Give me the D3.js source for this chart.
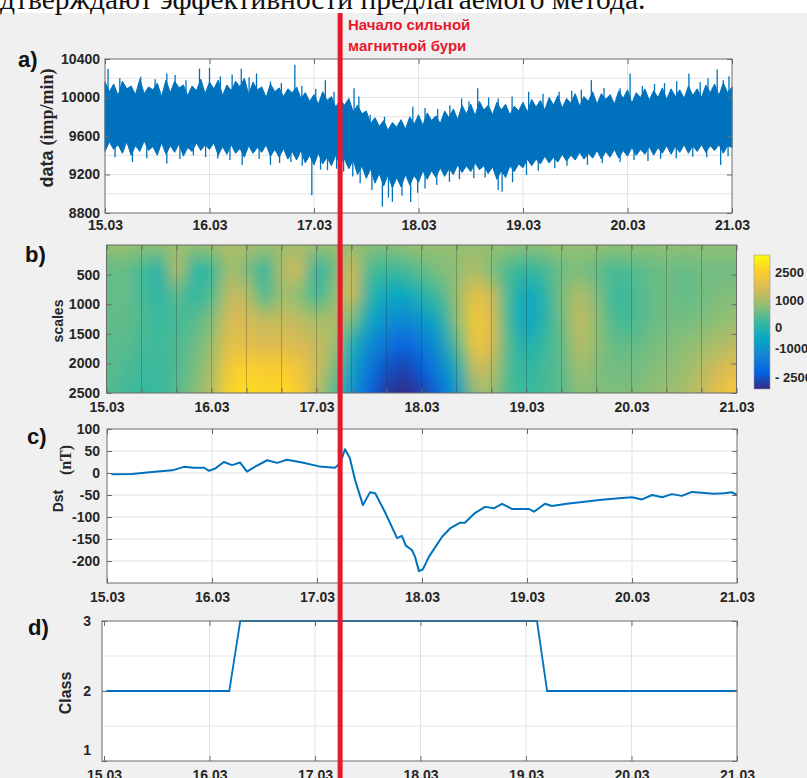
<!DOCTYPE html>
<html>
<head>
<meta charset="utf-8">
<script src="https://cdn.jsdelivr.net/npm/d3@7"></script>
<style>
  html, body { margin: 0; padding: 0; background: #fff; }
  svg { display: block; font-family: "Liberation Sans", Arial, sans-serif; }
</style>
</head>
<body>
<svg id="fig" width="807" height="778"></svg>
<script>
// ---- data ----
const dayLabels = ["15.03", "16.03", "17.03", "18.03", "19.03", "20.03", "21.03"];
const stormHour = 54; // 17.03 06:00

// a) count rate, local upper / lower extremes every hour (imp/min)
const rateHi = [10160, 10060, 10140, 10020, 10170, 10090, 10120, 10030, 10190, 10040,
  10110, 10080, 10150, 10010, 10180, 10050, 10170, 10100, 10130, 10020,
  10120, 10070, 10190, 10040, 10160, 10090, 10180, 10020, 10130, 10070,
  10170, 10110, 10200, 10030, 10160, 10080, 10110, 10000, 10140, 10060,
  10100, 10010, 10090, 10050, 10110, 9990, 10050, 9960, 10030, 9930,
  10060, 9970, 10010, 9900, 9980, 9920, 9990, 9850, 9920, 9830,
  9860, 9730, 9790, 9700, 9760, 9660, 9740, 9690, 9770, 9670,
  9800, 9720, 9820, 9710, 9840, 9760, 9810, 9730, 9860, 9790,
  9880, 9770, 9920, 9830, 9930, 9810, 9960, 9870, 9920, 9820,
  9950, 9870, 9930, 9820, 9910, 9860, 9950, 9850, 9980, 9900,
  9970, 9870, 10000, 9920, 10020, 9890, 9990, 9940, 10040, 9910,
  10010, 9960, 10060, 9930, 10040, 9980, 10030, 9930, 10070, 9990,
  10080, 9940, 10050, 10000, 10090, 9970, 10070, 10000, 10100, 9980,
  10090, 10010, 10080, 9990, 10120, 10020, 10090, 10000, 10130, 10050,
  10140, 10020, 10150, 10050, 10110];
const rateLo = [9440, 9540, 9460, 9510, 9420, 9540, 9400, 9500, 9440, 9550,
  9450, 9490, 9400, 9530, 9410, 9500, 9430, 9520, 9390, 9480,
  9440, 9530, 9450, 9510, 9460, 9530, 9400, 9490, 9410, 9510,
  9420, 9470, 9380, 9500, 9420, 9480, 9430, 9510, 9390, 9460,
  9380, 9470, 9360, 9440, 9350, 9450, 9320, 9400, 9300, 9420,
  9310, 9380, 9290, 9400, 9310, 9360, 9260, 9350, 9200, 9290,
  9160, 9260, 9110, 9210, 9080, 9200, 9060, 9170, 9070, 9200,
  9090, 9190, 9120, 9240, 9150, 9240, 9170, 9270, 9180, 9260,
  9200, 9300, 9220, 9290, 9230, 9320, 9250, 9290, 9210, 9280,
  9150, 9240, 9170, 9290, 9230, 9310, 9270, 9360, 9290, 9360,
  9310, 9390, 9320, 9380, 9330, 9410, 9340, 9400, 9350, 9430,
  9360, 9420, 9370, 9450, 9360, 9440, 9380, 9460, 9370, 9450,
  9390, 9480, 9400, 9460, 9410, 9490, 9400, 9480, 9420, 9500,
  9410, 9490, 9430, 9510, 9420, 9500, 9440, 9510, 9430, 9500,
  9450, 9510, 9420, 9500, 9480];
// single spikes [hour, value]
const spikesUp = [[0.7, 10300], [3.4, 10200], [8.2, 10215], [11.5, 10190], [14.2, 10250],
  [16.1, 10235], [18.6, 10180], [21.7, 10300], [24, 10305], [26.5, 10220],
  [29.2, 10240], [31.3, 10300], [33.1, 10210], [34.8, 10250], [38, 10165],
  [40.5, 10150], [43.6, 10340], [45.2, 10120], [48.4, 10090], [50.6, 10180],
  [52.6, 10060], [57.2, 10095], [58.3, 10010], [60.9, 9820], [64.2, 9800],
  [67.4, 9730], [70.7, 9905], [73.5, 9890], [76.4, 9880], [79.2, 9920],
  [81.9, 9990], [83.6, 9960], [85.6, 10095], [88.1, 10000], [90.3, 9990],
  [93.5, 10010], [97.3, 10060], [100.6, 10040], [104.3, 10060], [107.2, 10070],
  [109.4, 10080], [111.7, 10180], [114.6, 10100], [118.3, 10095], [120.6, 10250],
  [123.4, 10120], [126.2, 10140], [128.5, 10150], [131.3, 10170], [134.1, 10250],
  [136.7, 10160], [138.5, 10200], [140.6, 10290], [142, 10180], [143.3, 10220]];
const spikesDown = [[2.3, 9380], [6.3, 9330], [9.6, 9370], [14.2, 9315], [17.2, 9360],
  [20.3, 9400], [23.1, 9380], [25.9, 9365], [28.7, 9350], [31.5, 9300],
  [35.4, 9360], [38, 9300], [40.1, 9320], [42.7, 9330], [45.3, 9290],
  [47.5, 8985], [49.5, 9250], [51.1, 9245], [53.2, 9260], [54.8, 9230],
  [56.9, 9180], [58.6, 9110], [61.3, 9040], [63.7, 8865], [65.1, 8960],
  [66, 8915], [68.2, 8980], [70.2, 8915], [71.8, 9010], [73.5, 9055],
  [76.2, 9090], [79.1, 9125], [81.4, 9150], [84.7, 9160], [87.3, 9170],
  [90.3, 9040], [91.2, 9020], [93.6, 9120], [96.8, 9195], [99.5, 9240],
  [103.3, 9265], [106.1, 9290], [110.8, 9300], [114.2, 9320], [118.3, 9330],
  [121.5, 9350], [124.7, 9340], [127.6, 9365], [131.2, 9370], [135, 9385],
  [138.2, 9380], [141.4, 9300], [143.1, 9390]];

// b) wavelet coefficients: columns every 4 h, rows at these scales
const heatScales = [0, 417, 833, 1250, 1667, 2083, 2500];
const heatValues = [
  [850, 500, 500, 500, 450, 450, 400],
  [850, 550, 550, 500, 450, 350, 300],
  [800, 300, 300, 350, 300, 250, 200],
  [750, 0, 50, 200, 250, 200, 200],
  [950, 1300, 500, 300, 350, 350, 400],
  [800, 50, 100, 400, 550, 650, 750],
  [900, 200, 400, 700, 900, 1100, 1200],
  [1100, 1100, 1400, 1700, 2000, 2400, 2700],
  [1000, 700, 1300, 1600, 1900, 2600, 2900],
  [900, 100, 300, 1300, 1700, 2400, 2700],
  [950, 1200, 1000, 1400, 1800, 2500, 2800],
  [1000, 1500, 800, 1300, 1700, 2200, 2500],
  [850, 0, 200, 1000, 1400, 1500, 1300],
  [850, 600, 800, 1100, 1000, 700, 400],
  [900, 1700, 1700, 700, -200, -700, -1000],
  [750, 300, 0, -500, -1200, -1700, -2200],
  [700, 200, -400, -1000, -1800, -2500, -2900],
  [800, 300, -500, -1300, -2200, -2800, -3200],
  [900, 500, 0, -900, -1700, -2300, -2800],
  [850, 700, 300, -300, -900, -1500, -2000],
  [850, 800, 900, 800, 400, -300, -800],
  [850, 1200, 2000, 2400, 2300, 1500, 900],
  [850, 700, 1500, 1800, 1700, 1300, 900],
  [800, 300, 200, 200, 300, 300, 300],
  [750, 100, -500, -600, -200, 100, 200],
  [800, 300, 0, 0, 200, 300, 300],
  [850, 600, 700, 600, 500, 450, 450],
  [850, 700, 1200, 1400, 1300, 1000, 800],
  [850, 500, 700, 800, 800, 700, 700],
  [800, 300, 200, 300, 500, 600, 700],
  [800, 400, 300, 300, 500, 600, 700],
  [800, 500, 500, 500, 600, 700, 800],
  [800, 600, 600, 600, 700, 800, 900],
  [800, 500, 500, 600, 800, 900, 1000],
  [800, 600, 600, 700, 900, 1200, 1400],
  [800, 600, 700, 800, 1100, 1600, 2000],
  [800, 600, 700, 900, 1300, 1900, 2400]
];
const cbTicks = [-2500, -1000, 0, 1000, 2500];
const cbFrac = [0.09, 0.30, 0.46, 0.66, 0.87]; // where the ticks sit on the colour bar
const parula = ["#352a87", "#0363e1", "#1485d4", "#06a7c6", "#38b99e",
  "#92bf73", "#d9ba56", "#fcce2e", "#f9fb0e"];

// c) Dst index
const dstHours = [1, 5.7, 10.3, 14.9, 17.6, 19.9, 22.2, 23.3, 24.7, 26.7, 28.6, 30.4, 32, 34.3,
  36.6, 38.9, 41.1, 43.4, 44.6, 48.5, 52.1, 53.3, 54.4, 55.5, 56.7, 58.5, 60.1, 61.3,
  63.5, 66.3, 67.4, 68.3, 69.7, 70.4, 71.3, 72.2, 73.6, 76.6, 78.4, 80.7, 81.8, 84.1,
  86.4, 88.5, 90.3, 92.6, 96.5, 97.6, 100.1, 101.7, 105.1, 108.6, 113.1, 117.7, 120,
  122.3, 124.6, 126.9, 129.1, 131.4, 133.7, 136, 138.7, 141, 142.9, 144];
const dstValues = [-3, -2, 2, 6, 14, 12, 12, 5, 10, 25, 18, 24, 3, 17,
  29, 23, 30, 26, 24, 15, 12, 22, 54, 34, -16, -73, -44, -46,
  -88, -148, -143, -165, -175, -190, -223, -219, -190, -145, -126, -113, -113, -91,
  -77, -80, -70, -82, -82, -88, -70, -75, -70, -66, -61, -57, -55,
  -60, -50, -55, -48, -52, -43, -45, -47, -46, -44, -50];

// d) storm class
const classHours = [0.5, 28.5, 31, 98.5, 100.8, 144];
const classValues = [2, 2, 3, 3, 2, 2];

// ---- figure ----
const W = 807, H = 778;
const svg = d3.select("#fig");
const defs = svg.append("defs");
const blue = "#0072bd", red = "#e8192c";
const gridCol = "#e3e3e3", axisCol = "#6a6a6a", textCol = "#262626";

svg.append("rect").attr("width", W).attr("height", H).attr("fill", "#f0f0f0");
svg.append("rect").attr("width", W).attr("height", 13).attr("fill", "#fff");
svg.append("text")
  .attr("x", 0).attr("y", 9)
  .style("font-family", "'Liberation Serif', 'Times New Roman', serif")
  .style("font-size", "29.5px")
  .attr("fill", "#111")
  .text("дтверждают эффективности предлагаемого метода.");

const A = { l: 105, r: 732, t: 59, b: 213 };
const B = { l: 106.5, r: 736.5, t: 245, b: 393 };
const C = { l: 107, r: 737, t: 429, b: 583 };
const D = { l: 102, r: 737, t: 621, b: 761 };

function dayFmt(h) { return h % 24 === 0 ? dayLabels[h / 24] : ""; }

function axes(box, x, y, o) {
  const g = svg.append("g").style("font-weight", "bold");
  const xa = d3.axisBottom(x).tickValues(o.xTicks).tickSize(-5)
    .tickPadding(o.xPad).tickFormat(dayFmt);
  g.append("g").attr("transform", `translate(0,${box.b})`).call(xa);
  g.append("g").attr("transform", `translate(0,${box.t})`)
    .call(d3.axisTop(x).tickValues(o.xTicks).tickSize(-5).tickFormat(""));
  const ya = d3.axisLeft(y).tickValues(o.yTicks).tickSize(-5)
    .tickPadding(box.l - o.yLabelX).tickFormat(o.yFmt || (d => d));
  g.append("g").attr("transform", `translate(${box.l},0)`).call(ya);
  g.append("g").attr("transform", `translate(${box.r},0)`)
    .call(d3.axisRight(y).tickValues(o.yTicks).tickSize(-5).tickFormat(""));
  g.selectAll(".domain").remove();
  g.selectAll(".tick line").attr("stroke", axisCol);
  g.selectAll("text").attr("fill", textCol).style("font-size", "14px")
    .style("font-family", "'Liberation Sans', Arial, sans-serif");
  g.append("rect")
    .attr("x", box.l).attr("y", box.t)
    .attr("width", box.r - box.l).attr("height", box.b - box.t)
    .attr("fill", "none").attr("stroke", axisCol);
  return g;
}

function grid(box, x, y, xs, ys, col) {
  const g = svg.append("g").attr("stroke", col).attr("stroke-width", 1);
  g.selectAll(".gx").data(xs).enter().append("line")
    .attr("x1", d => x(d)).attr("x2", d => x(d))
    .attr("y1", box.t).attr("y2", box.b);
  g.selectAll(".gy").data(ys).enter().append("line")
    .attr("y1", d => y(d)).attr("y2", d => y(d))
    .attr("x1", box.l).attr("x2", box.r);
}

function whiteBox(box) {
  svg.append("rect").attr("x", box.l).attr("y", box.t)
    .attr("width", box.r - box.l).attr("height", box.b - box.t).attr("fill", "#fff");
}

function label(txt, x, y) {
  svg.append("text").attr("x", x).attr("y", y)
    .style("font-size", "22px").style("font-weight", "bold").attr("fill", "#111").text(txt);
}

function yTitle(parts, x, y) {
  const t = svg.append("text")
    .attr("transform", `translate(${x},${y}) rotate(-90)`)
    .attr("text-anchor", "middle").style("font-weight", "bold").attr("fill", textCol);
  parts.forEach(p => t.append("tspan").style("font-size", p.size + "px")
    .style("font-family", p.serif ? "'Liberation Serif', serif" : "'Liberation Sans', Arial, sans-serif")
    .text(p.text));
}

const days = d3.range(0, 145, 24);

// a) raw data
const xA = d3.scaleLinear().domain([0, 144]).range([A.l, A.r]);
const yA = d3.scaleLinear().domain([8800, 10400]).range([A.b, A.t]);
whiteBox(A);
grid(A, xA, yA, days.slice(1, -1), d3.range(9000, 10400, 200), gridCol);
const rateRows = rateHi.map((v, i) => ({ h: i, hi: v, lo: rateLo[i] }));
svg.append("path").datum(rateRows)
  .attr("fill", blue).attr("stroke", blue).attr("stroke-width", 1)
  .attr("d", d3.area().x(d => xA(d.h)).y0(d => yA(d.lo)).y1(d => yA(d.hi)));
const mid = h => { const r = rateRows[Math.min(144, Math.round(h))]; return (r.hi + r.lo) / 2; };
svg.append("g").attr("stroke", blue).attr("stroke-width", 1.3)
  .selectAll("line").data(spikesUp.concat(spikesDown)).enter().append("line")
  .attr("x1", d => xA(d[0])).attr("x2", d => xA(d[0]))
  .attr("y1", d => yA(mid(d[0]))).attr("y2", d => yA(d[1]));
axes(A, xA, yA, { xTicks: days, xPad: 7, yTicks: d3.range(8800, 10401, 400), yLabelX: 100 });
label("a)", 18, 67);
yTitle([{ text: "data ", size: 18 }, { text: "(imp/min)", size: 18, serif: true }], 53, 128);

// b) wavelet map
const xB = d3.scaleLinear().domain([0, 144]).range([B.l, B.r]);
const yB = d3.scaleLinear().domain([0, 2500]).range([B.t, B.b]);
const cbPos = d3.scaleLinear().domain(cbTicks).range(cbFrac);
const parulaScale = d3.scaleLinear().domain(parula.map((c, i) => i / 8)).range(parula).clamp(true);
const heatColor = v => parulaScale(cbPos(v));

// one pixel per sample, edge samples repeated once so the smoothing reaches the frame
const nc = heatValues.length, nr = heatScales.length;
const cv = document.createElement("canvas");
cv.width = nc + 2; cv.height = nr + 2;
const ctx = cv.getContext("2d");
const img = ctx.createImageData(cv.width, cv.height);
for (let i = 0; i < cv.width; i++) {
  for (let j = 0; j < cv.height; j++) {
    const v = heatValues[Math.max(0, Math.min(nc - 1, i - 1))][Math.max(0, Math.min(nr - 1, j - 1))];
    const c = d3.rgb(heatColor(v));
    const k = (j * cv.width + i) * 4;
    img.data[k] = c.r; img.data[k + 1] = c.g; img.data[k + 2] = c.b; img.data[k + 3] = 255;
  }
}
ctx.putImageData(img, 0, 0);
defs.append("clipPath").attr("id", "clipB").append("rect")
  .attr("x", B.l).attr("y", B.t).attr("width", B.r - B.l).attr("height", B.b - B.t);
defs.append("filter").attr("id", "soft")
  .attr("x", "-5%").attr("y", "-10%").attr("width", "110%").attr("height", "120%")
  .append("feGaussianBlur").attr("stdDeviation", "6 3");
const stepH = 4, stepS = heatScales[1] - heatScales[0];
svg.append("g").attr("clip-path", "url(#clipB)")
  .append("image")
  .attr("filter", "url(#soft)")
  .attr("href", cv.toDataURL())
  .attr("preserveAspectRatio", "none")
  .attr("x", xB(-1.5 * stepH)).attr("width", xB(144 + 1.5 * stepH) - xB(-1.5 * stepH))
  .attr("y", yB(-1.5 * stepS)).attr("height", yB(2500 + 1.5 * stepS) - yB(-1.5 * stepS));
const eight = d3.range(0, 145, 8);
grid(B, xB, yB, eight.slice(1, -1), [], "rgba(40,40,40,0.28)");
axes(B, xB, yB, { xTicks: eight, xPad: 9, yTicks: [500, 1000, 1500, 2000, 2500], yLabelX: 100 });
label("b)", 25, 262);
yTitle([{ text: "scales", size: 14 }], 63, 321);

// colour bar
const cbY = d3.scaleLinear().domain(cbTicks).range(cbFrac.map(f => 389 - 134 * f));
const grad = defs.append("linearGradient").attr("id", "cbar")
  .attr("x1", 0).attr("y1", 1).attr("x2", 0).attr("y2", 0);
parula.forEach((c, i) => grad.append("stop").attr("offset", i / 8).attr("stop-color", c));
svg.append("rect").attr("x", 754).attr("y", 255).attr("width", 16).attr("height", 134)
  .attr("fill", "url(#cbar)").attr("stroke", "#9a9a9a").attr("stroke-width", 0.6);
svg.append("g").attr("transform", "translate(770,0)")
  .call(d3.axisRight(cbY).tickValues(cbTicks).tickSize(0).tickPadding(5)
    .tickFormat(d => d === -2500 ? "- 2500" : d))
  .call(g => g.select(".domain").remove())
  .selectAll("text").attr("fill", textCol).style("font-size", "13px").style("font-weight", "bold")
  .style("font-family", "'Liberation Sans', Arial, sans-serif");

// c) Dst
const xC = d3.scaleLinear().domain([0, 144]).range([C.l, C.r]);
const yC = d3.scaleLinear().domain([-250, 100]).range([C.b, C.t]);
whiteBox(C);
grid(C, xC, yC, days.slice(1, -1), d3.range(-200, 100, 50), gridCol);
svg.append("path").datum(dstHours.map((h, i) => [h, dstValues[i]]))
  .attr("fill", "none").attr("stroke", blue).attr("stroke-width", 2)
  .attr("stroke-linejoin", "round")
  .attr("d", d3.line().x(d => xC(d[0])).y(d => yC(d[1])));
axes(C, xC, yC, { xTicks: days, xPad: 9, yTicks: d3.range(-200, 101, 50), yLabelX: 100 });
label("c)", 27, 444);
yTitle([{ text: "Dst", size: 14 }], 63, 501);
yTitle([{ text: "(nT)", size: 16, serif: true }], 71, 460);

// d) class
const xD = d3.scaleLinear().domain([0, 144]).range([104, 737]);
const yD = d3.scaleLinear().domain([1, 3]).range([D.b, D.t]);
whiteBox(D);
grid(D, xD, yD, days.slice(1, -1), [1.5, 2, 2.5], gridCol);
svg.append("path").datum(classHours.map((h, i) => [h, classValues[i]]))
  .attr("fill", "none").attr("stroke", blue).attr("stroke-width", 1.8)
  .attr("d", d3.line().x(d => xD(d[0])).y(d => yD(d[1])));
const gD = axes(D, xD, yD, { xTicks: days, xPad: 9, yTicks: [1, 2, 3], yLabelX: 91 });
gD.selectAll(".tick text").filter(d => d === 1).attr("dy", "-0.5em");
label("d)", 28, 635);
yTitle([{ text: "Class", size: 16 }], 71, 693);

// storm onset marker
svg.append("line")
  .attr("x1", xA(stormHour)).attr("x2", xA(stormHour))
  .attr("y1", 13).attr("y2", H)
  .attr("stroke", red).attr("stroke-width", 5);
const note = svg.append("text").attr("fill", red)
  .style("font-size", "15px").style("font-weight", "bold");
note.append("tspan").attr("x", 348).attr("y", 30).text("Начало сильной");
note.append("tspan").attr("x", 348).attr("y", 51).text("магнитной бури");
</script>
</body>
</html>
